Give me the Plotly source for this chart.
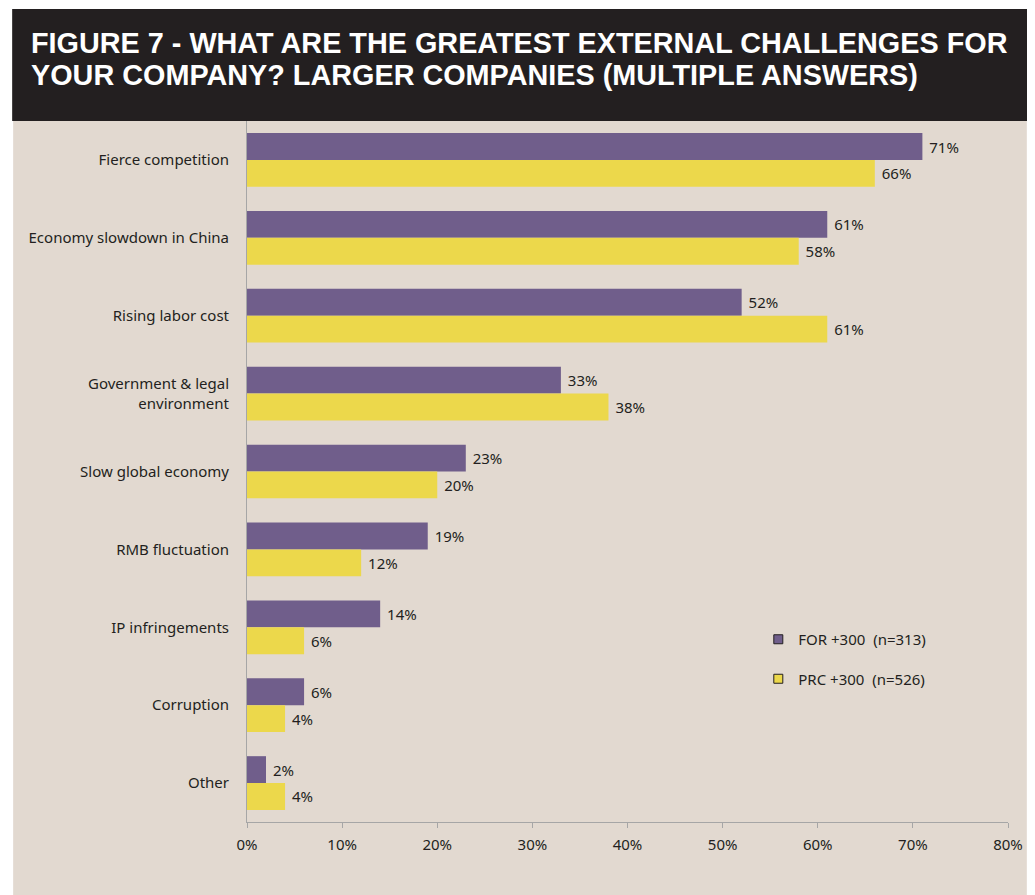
import plotly.graph_objects as go

categories = ["Fierce competition", "Economy slowdown in China", "Rising labor cost",
              "Government & legal<br>environment", "Slow global economy", "RMB fluctuation",
              "IP infringements", "Corruption", "Other"]
for_values = [71, 61, 52, 33, 23, 19, 14, 6, 2]
prc_values = [66, 58, 61, 38, 20, 12, 6, 4, 4]
series_names = ["FOR +300  (n=313)", "PRC +300  (n=526)"]
x_ticks = [0, 10, 20, 30, 40, 50, 60, 70, 80]
x_tick_labels = [f"{t}%" for t in x_ticks]
title_lines = ["FIGURE 7 - WHAT ARE THE GREATEST EXTERNAL CHALLENGES FOR",
               "YOUR COMPANY? LARGER COMPANIES (MULTIPLE ANSWERS)"]

PURPLE = "#705E8B"
YELLOW = "#ECD84B"
BEIGE = "#E2D9D0"
DARK = "#231F20"
FONT = "Noto Sans"

OFF = 8  # page body margin
SW, SH = 1035, 895  # screen size
W, H = SW - OFF, SH - OFF
L, R, T, B = 247, 1015, 121, 822  # plot area bounds in screen pixels


def px(x):
    return (x - L) / (R - L)


def py(y):
    return (B - y) / (B - T)


NB = "\u00a0"

fig = go.Figure()
fig.add_trace(go.Bar(
    y=categories, x=for_values, orientation="h", name=series_names[0],
    marker=dict(color=PURPLE, line=dict(width=0)),
    text=[f"{NB}{v}%" for v in for_values], textposition="outside",
    textfont=dict(family=FONT, size=15, color=DARK), cliponaxis=False,
    showlegend=False, hoverinfo="x+y"))
fig.add_trace(go.Bar(
    y=categories, x=prc_values, orientation="h", name=series_names[1],
    marker=dict(color=YELLOW, line=dict(width=0)),
    text=[f"{NB}{v}%" for v in prc_values], textposition="outside",
    textfont=dict(family=FONT, size=15, color=DARK), cliponaxis=False,
    showlegend=False, hoverinfo="x+y"))

# legend entries (square swatches with dark outline)
for name, col, grp in [(series_names[0], PURPLE, "a"), (series_names[1], YELLOW, "b")]:
    fig.add_trace(go.Scatter(
        x=[None], y=[None], mode="markers", name=name, legendgroup=grp,
        marker=dict(symbol="square", size=9, color=col, line=dict(color=DARK, width=1)),
        showlegend=True))

shapes = [
    dict(type="rect", xref="paper", yref="paper", x0=px(11), x1=px(1034), y0=py(900), y1=py(121),
         fillcolor=BEIGE, line=dict(width=0), layer="below"),
    dict(type="rect", xref="paper", yref="paper", x0=px(10), x1=px(1035), y0=py(121), y1=py(9),
         fillcolor=DARK, line=dict(width=0), layer="below"),
]

annotations = [
    dict(text=f"<b>{title_lines[0]}</b>", xref="paper", yref="paper", x=px(27), y=py(43),
         xanchor="left", yanchor="middle", showarrow=False,
         font=dict(family="Liberation Sans", size=28.8, color="white")),
    dict(text=f"<b>{title_lines[1]}</b>", xref="paper", yref="paper", x=px(27), y=py(75),
         xanchor="left", yanchor="middle", showarrow=False,
         font=dict(family="Liberation Sans", size=28.8, color="white")),
]

fig.update_layout(
    width=W, height=H,
    margin=dict(l=L - OFF, r=SW - R, t=T - OFF, b=SH - B, pad=0),
    paper_bgcolor="white", plot_bgcolor="rgba(0,0,0,0)",
    barmode="group", bargap=0.31, bargroupgap=0,
    font=dict(family=FONT, size=15, color=DARK),
    shapes=shapes, annotations=annotations,
    showlegend=True,
    legend=dict(x=px(763), y=py(623), xanchor="left", yanchor="top",
                bgcolor="rgba(0,0,0,0)", traceorder="grouped", tracegroupgap=17,
                itemwidth=30,
                font=dict(family=FONT, size=15, color=DARK)),
    xaxis=dict(range=[0, 80], tickvals=x_ticks, ticktext=x_tick_labels,
               showgrid=False, zeroline=False, showline=True, linecolor="#A6A6A6", linewidth=1,
               ticks="outside", ticklen=5, tickcolor="#A6A6A6", ticklabelstandoff=4,
               tickfont=dict(family=FONT, size=15, color=DARK), fixedrange=True),
    yaxis=dict(type="category", autorange="reversed", showgrid=False, zeroline=False,
               showline=True, linecolor="#A6A6A6", linewidth=1, ticks="",
               ticklabelstandoff=14,
               tickfont=dict(family=FONT, size=15, color=DARK), fixedrange=True),
)

fig.write_html("out.html")
